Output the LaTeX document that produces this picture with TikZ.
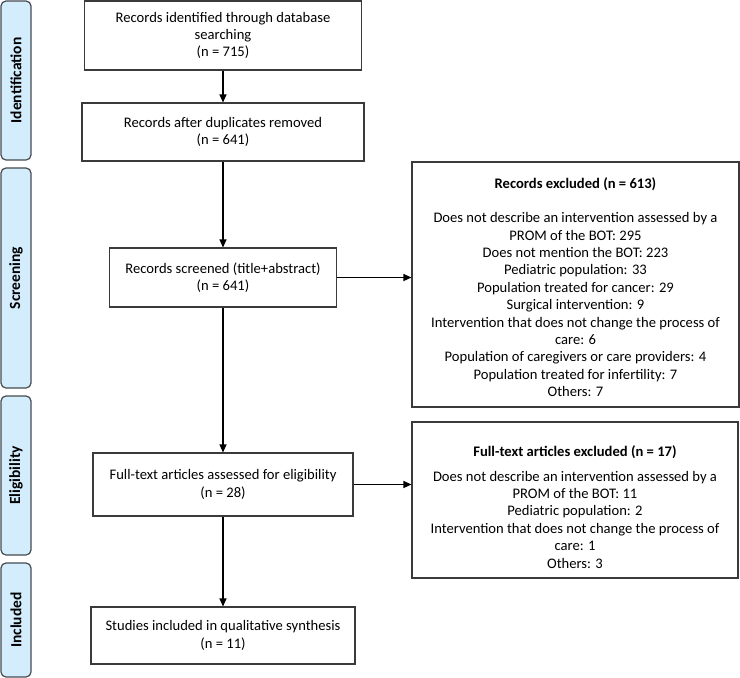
\documentclass[tikz,border=0pt]{standalone}
\usepackage{fontspec}
\setmainfont{Carlito}
\usepackage{xcolor}
\usepackage{tikz}
\usetikzlibrary{arrows.meta}

\definecolor{tabfill}{HTML}{D3EDFD}
\definecolor{tabline}{HTML}{454B50}
\definecolor{boxline}{HTML}{3A3A3A}

\tikzset{
  tab/.style={shape=rectangle, rounded corners=5pt, fill=tabfill, draw=tabline,
    line width=1.2pt, rotate=90, minimum height=30pt, inner sep=0pt,
    font=\fontsize{15.5}{17}\selectfont\bfseries},
  box/.style={shape=rectangle, draw=boxline, line width=1.1pt, align=center,
    inner sep=0pt, font=\fontsize{14.6}{17.4}\selectfont},
  arr/.style={draw=black, line width=1.1pt, -{Triangle[length=8pt,width=7pt]}}
}

\begin{document}
\begin{tikzpicture}[x=1pt, y=-1pt]
		\useasboundingbox (0,0) rectangle (740,678);

		\node[tab, minimum width=159pt] (tid) at (16,80.5) {Identification};
		\node[tab, minimum width=220pt] (tscr) at (16,278) {Screening};
		\node[tab, minimum width=159pt] (telig) at (16,475.5) {Eligibility};
		\node[tab, minimum width=114pt] (tincl) at (16,620) {Included};

		\node[box, minimum width=277pt, minimum height=69pt] (ident) at (223,35.5)
			{Records identified through database\\searching\\(n = 715)};
		\node[box, minimum width=282pt, minimum height=58pt] (dup) at (223,132)
			{Records after duplicates removed\\(n = 641)};
		\node[box, minimum width=227pt, minimum height=59pt] (screen) at (223,277.5)
			{Records screened (title+abstract)\\(n = 641)};
		\node[box, minimum width=260pt, minimum height=63pt] (full) at (223,484.5)
			{Full-text articles assessed for eligibility\\(n = 28)};
		\node[box, minimum width=264pt, minimum height=57pt] (incl) at (223,635.5)
			{Studies included in qualitative synthesis\\(n = 11)};

		\node[box, minimum width=327pt, minimum height=245pt] (exc1) at (575.5,284.5)
			{\rule{0pt}{16pt}\textbf{Records excluded (n = 613)}\\[17pt]
			Does not describe an intervention assessed by a\\
			PROM of the BOT: 295\\
			Does not mention the BOT: 223\\
			Pediatric population: 33\\
			Population treated for cancer: 29\\
			Surgical intervention: 9\\
			Intervention that does not change the process of\\
			care: 6\\
			Population of caregivers or care providers: 4\\
			Population treated for infertility: 7\\
			Others: 7};
		\node[box, minimum width=326pt, minimum height=156pt] (exc2) at (575,500)
			{\rule{0pt}{25pt}\textbf{Full-text articles excluded (n = 17)}\\[7pt]
			Does not describe an intervention assessed by a\\
			PROM of the BOT: 11\\
			Pediatric population: 2\\
			Intervention that does not change the process of\\
			care: 1\\
			Others: 3};

		\draw [arr] (ident) -- (dup);
		\draw [arr] (dup) -- (screen);
		\draw [arr] (screen) -- (full);
		\draw [arr] (full) -- (incl);

		\draw [arr] (screen.east) -- (screen.east -| exc1.west);
		\draw [arr] (full.east) -- (full.east -| exc2.west);

\end{tikzpicture}
\end{document}
